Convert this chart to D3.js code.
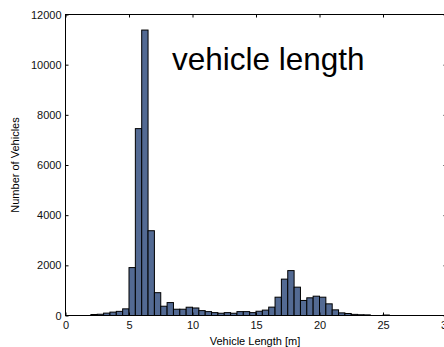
<!DOCTYPE html>
<html>
<head>
<meta charset="utf-8">
<script src="https://cdn.jsdelivr.net/npm/d3@7"></script>
<style>
  body { margin: 0; background: #fff; }
  svg { display: block; }
</style>
</head>
<body>
<svg id="chart" width="444" height="347"></svg>
<script>
// histogram bins (left edge, width 0.5 m) and counts
const binStart = [2, 2.5, 3, 3.5, 4, 4.5, 5, 5.5, 6, 6.5, 7, 7.5, 8, 8.5, 9, 9.5,
    10, 10.5, 11, 11.5, 12, 12.5, 13, 13.5, 14, 14.5, 15, 15.5, 16, 16.5, 17, 17.5,
    18, 18.5, 19, 19.5, 20, 20.5, 21, 21.5, 22, 22.5, 23, 23.5, 24, 24.5, 25];
const counts = [40, 50, 95, 135, 165, 265, 1910, 7450, 11380, 3380, 910, 370, 515, 250, 250, 330,
    300, 195, 155, 115, 90, 115, 90, 155, 155, 115, 170, 215, 334, 730, 1450, 1790,
    1130, 600, 705, 770, 730, 465, 225, 105, 80, 45, 30, 25, 0, 0, 20];
const binWidth = 0.5;
const xTicks = [0, 5, 10, 15, 20, 25, 30];
const yTicks = [0, 2000, 4000, 6000, 8000, 10000, 12000];

const bins = binStart.map((s, i) => ({x0: s, x1: s + binWidth, n: counts[i]}));

const svg = d3.select('#chart');
const font = 'Liberation Sans, Arial, sans-serif';

const x = d3.scaleLinear().domain([0, 30]).range([65.5, 446.5]);
const y = d3.scaleLinear().domain([0, 12000]).range([315.5, 14.5]);

// bars
svg.append('g')
    .selectAll('rect')
    .data(bins.filter(d => d.n > 0))
    .join('rect')
    .attr('x', d => x(d.x0))
    .attr('y', d => y(d.n))
    .attr('width', d => x(d.x1) - x(d.x0))
    .attr('height', d => y(0) - y(d.n))
    .attr('fill', '#536a93')
    .attr('stroke', '#000')
    .attr('stroke-width', 1);

// box axes, ticks pointing inward
function styleAxis(g) {
    g.select('.domain').remove();
    g.selectAll('.tick line').attr('stroke', '#000');
    g.selectAll('text').attr('fill', '#111').style('font-family', font).style('font-size', '11px');
}

svg.append('g')
    .attr('transform', 'translate(0,' + y(0) + ')')
    .call(d3.axisBottom(x).tickValues(xTicks).tickSizeInner(-3).tickSizeOuter(0).tickPadding(6))
    .call(styleAxis);

svg.append('g')
    .attr('transform', 'translate(0,' + y(12000) + ')')
    .call(d3.axisTop(x).tickValues(xTicks).tickSizeInner(-3).tickSizeOuter(0).tickFormat(''))
    .call(styleAxis);

svg.append('g')
    .attr('transform', 'translate(' + x(0) + ',0)')
    .call(d3.axisLeft(y).tickValues(yTicks).tickFormat(d3.format('d'))
        .tickSizeInner(-3).tickSizeOuter(0).tickPadding(4))
    .call(styleAxis);

svg.append('g')
    .attr('transform', 'translate(' + x(30) + ',0)')
    .call(d3.axisRight(y).tickValues(yTicks).tickSizeInner(-3).tickSizeOuter(0).tickFormat(''))
    .call(styleAxis);

svg.append('rect')
    .attr('x', x(0)).attr('y', y(12000))
    .attr('width', x(30) - x(0)).attr('height', y(0) - y(12000))
    .attr('fill', 'none').attr('stroke', '#000');

// labels
svg.append('text')
    .attr('x', (x(0) + x(30)) / 2 - 1)
    .attr('y', 345)
    .attr('text-anchor', 'middle')
    .style('font-family', font).style('font-size', '11px')
    .text('Vehicle Length [m]');

svg.append('text')
    .attr('transform', 'translate(19,' + ((y(0) + y(12000)) / 2) + ') rotate(-90)')
    .attr('text-anchor', 'middle')
    .style('font-family', font).style('font-size', '11px')
    .text('Number of Vehicles');

svg.append('text')
    .attr('x', 172)
    .attr('y', 70)
    .style('font-family', font).style('font-size', '31.5px')
    .text('vehicle length');
</script>
</body>
</html>
